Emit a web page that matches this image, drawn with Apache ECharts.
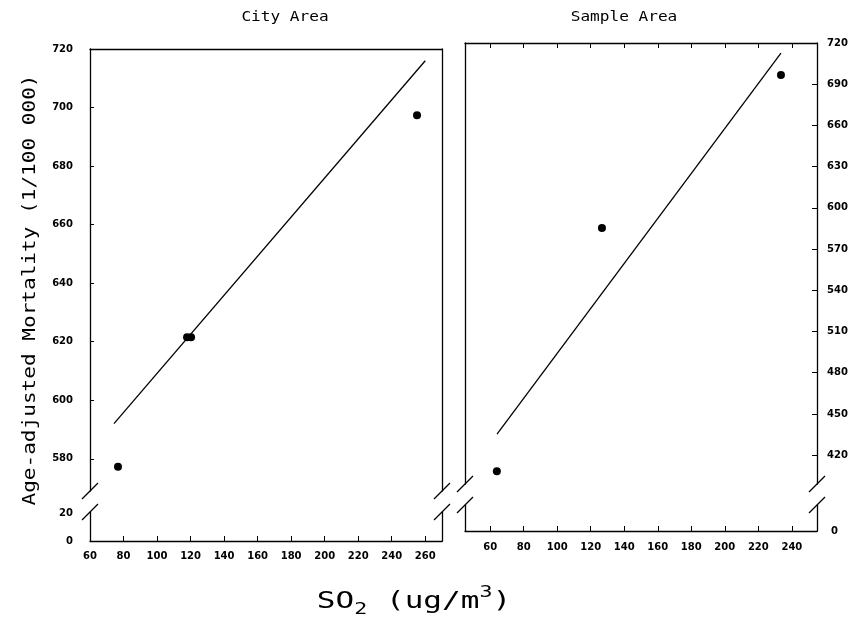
<!DOCTYPE html>
<html><head><meta charset="utf-8">
<script src="https://cdn.jsdelivr.net/npm/echarts@6/dist/echarts.min.js"></script>
<style>html,body{margin:0;padding:0;background:#fff}#c{width:861px;height:632px}</style>
</head><body><div id="c"></div>
<script>
// ---- data ----
const cityX = [76.7, 117.9, 120.3, 255.1];
const cityY = [577.3, 621.5, 621.5, 697.4];
const cityLineX = [74.3, 260];
const cityLineY = [592, 716];
const sampleX = [64, 126.7, 233.5];
const sampleY = [408.3, 585.3, 696.7];
const sampleLineX = [64.1, 233.5];
const sampleLineY = [435.3, 712.7];
const cityXTicks = [60, 80, 100, 120, 140, 160, 180, 200, 220, 240, 260];
const sampleXTicks = [60, 80, 100, 120, 140, 160, 180, 200, 220, 240];
const cityYTicksUpper = [580, 600, 620, 640, 660, 680, 700, 720];
const cityYTicksLower = [0, 20];
const sampleYTicksUpper = [420, 450, 480, 510, 540, 570, 600, 630, 660, 690, 720];
const sampleYTicksLower = [0];
const panelTitles = ['City Area', 'Sample Area'];
const yName = 'Age-adjusted Mortality (1/100 000)';

// ---- layout ----
const L = {left: 90, width: 352, upTop: 49, upBottom: 491, lowTop: 512, lowBottom: 541};
const R = {left: 465, width: 352, upTop: 43, upBottom: 484, lowTop: 505, lowBottom: 531};
const FONT = 'DejaVu Sans';
const MONO = 'DejaVu Sans Mono';
const lab = {color: '#000', fontFamily: FONT, fontSize: 10, fontWeight: 'bold'};
const line = {show: true, lineStyle: {color: '#000', width: 1.3}};

function grid(P, up) {
  return {left: P.left, width: P.width,
    top: up ? P.upTop : P.lowTop,
    height: up ? P.upBottom - P.upTop : P.lowBottom - P.lowTop};
}
const zip = (a, b) => a.map((v, i) => [v, b[i]]);

const xAxes = [
  {gridIndex: 0, type: 'value', position: 'top', min: 60, max: 270, axisLine: line,
   axisTick: {show: false}, axisLabel: {show: false}, splitLine: {show: false}},
  {gridIndex: 1, type: 'value', position: 'bottom', min: 60, max: 270, axisLine: line,
   axisTick: {show: true, inside: true, length: 5, customValues: cityXTicks, lineStyle: {color: '#000'}},
   axisLabel: Object.assign({customValues: cityXTicks, margin: 10}, lab), splitLine: {show: false}},
  {gridIndex: 2, type: 'value', position: 'top', min: 45, max: 255, axisLine: line,
   axisTick: {show: true, inside: true, length: 5, customValues: sampleXTicks, lineStyle: {color: '#000'}},
   axisLabel: {show: false}, splitLine: {show: false}},
  {gridIndex: 3, type: 'value', position: 'bottom', min: 45, max: 255, axisLine: line,
   axisTick: {show: true, inside: true, length: 5, customValues: sampleXTicks, lineStyle: {color: '#000'}},
   axisLabel: Object.assign({customValues: sampleXTicks, margin: 11}, lab), splitLine: {show: false}}
];
const plainY = (g, pos, min, max) => ({gridIndex: g, type: 'value', position: pos, min: min, max: max,
  axisLine: line, axisTick: {show: false}, axisLabel: {show: false}, splitLine: {show: false}});
const yAxes = [
  Object.assign(plainY(0, 'left', 569, 720), {
    axisTick: {show: true, inside: true, length: 4, customValues: cityYTicksUpper, lineStyle: {color: '#000'}},
    axisLabel: Object.assign({show: true, customValues: cityYTicksUpper, margin: 17}, lab)}),
  plainY(0, 'right', 569, 720),
  Object.assign(plainY(1, 'left', 0, 21), {
    axisLabel: Object.assign({show: true, customValues: cityYTicksLower, margin: 17}, lab)}),
  plainY(1, 'right', 0, 21),
  plainY(2, 'left', 399, 720),
  Object.assign(plainY(2, 'right', 399, 720), {
    axisTick: {show: true, inside: true, length: 5, customValues: sampleYTicksUpper, lineStyle: {color: '#000'}},
    axisLabel: Object.assign({show: true, customValues: sampleYTicksUpper, margin: 10}, lab)}),
  plainY(3, 'left', 0, 20),
  Object.assign(plainY(3, 'right', 0, 20), {
    axisLabel: Object.assign({show: true, customValues: sampleYTicksLower, margin: 14}, lab)})
];

// break slashes (decoration) derived from the layout constants
function slash(cx, cy) {
  return {type: 'line', shape: {x1: cx - 8, y1: cy + 8, x2: cx + 8, y2: cy - 8},
    style: {stroke: '#000', lineWidth: 1.3}, silent: true};
}
const graphics = [];
[L, R].forEach(P => {
  [P.left, P.left + P.width].forEach(x => {
    graphics.push(slash(x, P.upBottom));
    graphics.push(slash(x, P.lowTop));
  });
});
graphics.push({type: 'text', x: 285, y: 17, silent: true, scaleX: 1.15,
  style: {text: panelTitles[0], fontFamily: MONO, fontSize: 14, fill: '#000', align: 'center', verticalAlign: 'middle'}});
graphics.push({type: 'text', x: 624, y: 17, silent: true, scaleX: 1.15,
  style: {text: panelTitles[1], fontFamily: MONO, fontSize: 14, fill: '#000', align: 'center', verticalAlign: 'middle'}});
graphics.push({type: 'text', x: 30, y: 290, rotation: Math.PI / 2, scaleX: 1.17, silent: true,
  style: {text: yName, fontFamily: MONO, fontSize: 18, fill: '#000', align: 'center', verticalAlign: 'middle'}});
graphics.push({type: 'text', x: 414, y: 602, scaleX: 1.35, silent: true,
  style: {text: '{a|SO}{s|2}{a| (ug/m}{p|3}{a|)}', align: 'center', verticalAlign: 'middle',
    rich: {
      a: {fontFamily: MONO, fontSize: 23, fill: '#000', color: '#000'},
      s: {fontFamily: MONO, fontSize: 16, color: '#000', padding: [16, 0, 0, 0]},
      p: {fontFamily: MONO, fontSize: 16, color: '#000', padding: [0, 0, 18, 0]}
    }}});

const chart = echarts.init(document.getElementById('c'), null, {renderer: 'canvas'});
chart.setOption({
  animation: false,
  backgroundColor: '#fff',
  grid: [grid(L, true), grid(L, false), grid(R, true), grid(R, false)],
  xAxis: xAxes,
  yAxis: yAxes,
  graphic: graphics,
  series: [
    {type: 'scatter', xAxisIndex: 0, yAxisIndex: 0, data: zip(cityX, cityY), symbolSize: 8,
     itemStyle: {color: '#000', opacity: 1}},
    {type: 'line', xAxisIndex: 0, yAxisIndex: 0, data: zip(cityLineX, cityLineY), symbol: 'none',
     lineStyle: {color: '#000', width: 1.3}},
    {type: 'scatter', xAxisIndex: 2, yAxisIndex: 5, data: zip(sampleX, sampleY), symbolSize: 8,
     itemStyle: {color: '#000', opacity: 1}},
    {type: 'line', xAxisIndex: 2, yAxisIndex: 5, data: zip(sampleLineX, sampleLineY), symbol: 'none',
     lineStyle: {color: '#000', width: 1.3}}
  ]
});
</script></body></html>
